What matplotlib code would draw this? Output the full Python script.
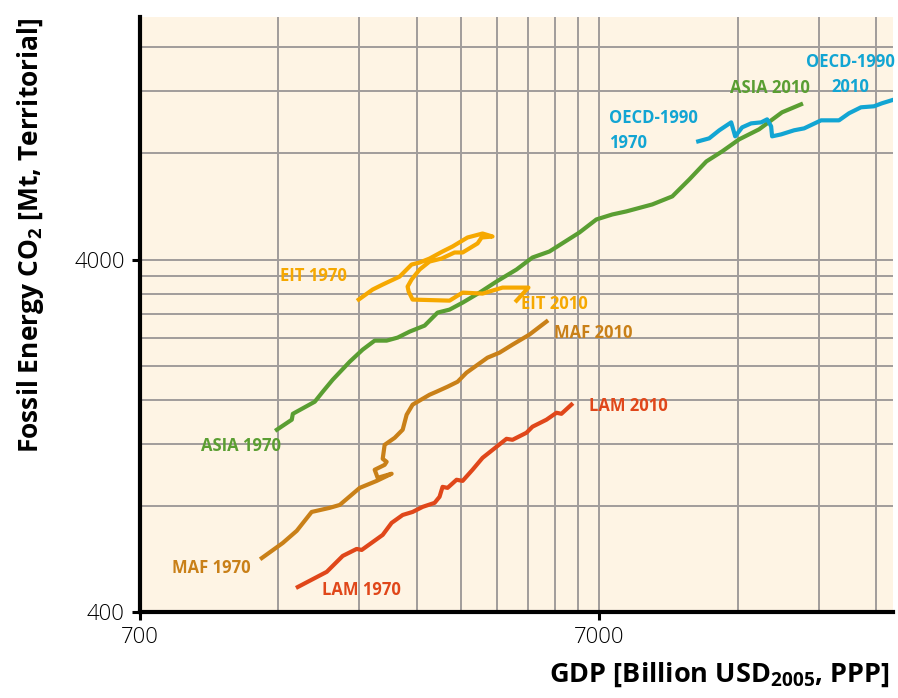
"""Fossil energy CO2 vs GDP by region, 1970-2010 (log-log)."""

import matplotlib.pyplot as plt
from matplotlib.ticker import FixedLocator, NullFormatter

# ---- data (GDP in billion USD2005 PPP, CO2 in Mt) ----
asia_gdp = [1390, 1498, 1506, 1681, 1750, 1839, 2003, 2137, 2270, 2410, 2547, 2705,
            2916, 3111, 3304, 3527, 3840, 4180, 4621, 5006, 5451, 6334, 6896, 7469,
            8012, 9128, 10090, 10990, 11970, 12960, 14110, 15590, 17490, 19240]
asia_co2 = [1316, 1405, 1460, 1580, 1687, 1824, 2052, 2220, 2355, 2355, 2402, 2498,
            2598, 2828, 2884, 3018, 3223, 3464, 3747, 4053, 4216, 4772, 5197, 5369,
            5477, 5733, 6042, 6751, 7593, 8109, 8771, 9364, 10464, 11025]

oecd_gdp = [11490, 12140, 12770, 13555, 13830, 14320, 14980, 15750, 16230, 16560, 16640,
            17410, 18580, 19540, 21270, 23270, 24470, 25980, 27730, 28860, 30300]
oecd_co2 = [8657, 8828, 9305, 9800, 8944, 9485, 9735, 9800, 9994, 9549, 8944,
            9059, 9305, 9423, 9930, 9930, 10400, 10812, 10884, 11100, 11320]

eit_gdp = [2095, 2247, 2363, 2572, 2731, 2843, 2989, 3190, 3353, 3615, 3898, 4097,
           3879, 3802, 3527, 3387, 3174, 2989, 2843, 2731, 2677, 2691, 2745, 3304,
           3527, 3898, 4308, 4906, 4621]
eit_co2 = [3079, 3288, 3397, 3578, 3871, 3922, 4026, 4216, 4355, 4619, 4741, 4649,
           4619, 4444, 4188, 4188, 4026, 3948, 3747, 3510, 3352, 3245, 3079, 3058,
           3223, 3202, 3330, 3330, 3058]

maf_gdp = [1289, 1432, 1536, 1655, 1812, 1905, 2106, 2293, 2471, 2304, 2270, 2386,
           2410, 2363, 2386, 2509, 2612, 2664, 2745, 2989, 3095, 3271, 3439, 3597,
           3996, 4244, 4529, 4931, 5370]
maf_co2 = [569, 628, 680, 769, 790, 805, 900, 942, 987, 961, 1013, 1046,
           1067, 1088, 1192, 1248, 1316, 1451, 1550, 1654, 1687, 1743, 1800, 1910,
           2107, 2177, 2294, 2450, 2667]

lam_gdp = [1544, 1785, 1934, 2074, 2127, 2363, 2471, 2612, 2745, 2887, 3065, 3142,
           3190, 3271, 3422, 3527, 3707, 3898, 4180, 4395, 4529, 4857, 5006, 5370,
           5646, 5788, 6085]
lam_co2 = [471, 520, 577, 604, 600, 662, 716, 754, 769, 795, 816, 849,
           906, 900, 949, 942, 1013, 1095, 1177, 1240, 1232, 1290, 1342, 1405,
           1470, 1460, 1550]

x_ticks = [700, 7000]
y_ticks = [400, 4000]
x_grid = [700 * k for k in range(2, 10)] + [7000 * k for k in range(2, 5)]
y_grid = [400 * k for k in range(2, 10)] + [4000 * k for k in range(2, 5)]

GREEN = "#5A9E32"
BLUE = "#12A5D3"
YELLOW = "#F6A800"
BROWN = "#C98018"
RED = "#E0471A"

plt.rcParams["font.family"] = ["Open Sans", "DejaVu Sans"]
plt.rcParams["mathtext.default"] = "regular"

fig = plt.figure(figsize=(8.98, 6.98), dpi=100)
ax = fig.add_axes([0.1559, 0.1232, 0.8385, 0.8524])
ax.set_facecolor("#FEF4E4")

ax.set_xscale("log")
ax.set_yscale("log")
ax.set_xlim(700, 30500)
ax.set_ylim(400, 19500)

ax.xaxis.set_major_locator(FixedLocator(x_ticks))
ax.yaxis.set_major_locator(FixedLocator(y_ticks))
ax.xaxis.set_minor_locator(FixedLocator(x_grid))
ax.yaxis.set_minor_locator(FixedLocator(y_grid))
ax.xaxis.set_minor_formatter(NullFormatter())
ax.yaxis.set_minor_formatter(NullFormatter())
ax.set_xticklabels([str(v) for v in x_ticks])
ax.set_yticklabels([str(v) for v in y_ticks])

ax.grid(which="both", color="#A19C9A", linewidth=1.4, zorder=0)
ax.set_axisbelow(True)
ax.tick_params(which="minor", length=0)
ax.tick_params(which="major", length=6, width=2.2, color="black", labelsize=16, pad=5)
for lab in ax.get_xticklabels() + ax.get_yticklabels():
    lab.set_fontweight("light")

ax.spines[["top", "right"]].set_visible(False)
ax.spines[["left", "bottom"]].set_linewidth(3)
ax.spines[["left", "bottom"]].set_color("black")

lw = 3
ax.plot(asia_gdp, asia_co2, color=GREEN, lw=lw, solid_joinstyle="round", zorder=3)
ax.plot(oecd_gdp, oecd_co2, color=BLUE, lw=lw, solid_joinstyle="round", zorder=3)
ax.plot(eit_gdp, eit_co2, color=YELLOW, lw=lw, solid_joinstyle="round", zorder=3)
ax.plot(maf_gdp, maf_co2, color=BROWN, lw=lw, solid_joinstyle="round", zorder=3)
ax.plot(lam_gdp, lam_co2, color=RED, lw=lw, solid_joinstyle="round", zorder=3)

lbl = dict(fontsize=12, fontweight="bold", va="center", ha="center", zorder=4)
ax.text(1670, 3600, "EIT 1970", color=YELLOW, **lbl)
ax.text(1160, 1184, "ASIA 1970", color=GREEN, **lbl)
ax.text(1000, 533, "MAF 1970", color=BROWN, **lbl)
ax.text(2120, 462, "LAM 1970", color=RED, **lbl)
ax.text(5600, 3000, "EIT 2010", color=YELLOW, **lbl)
ax.text(6780, 2480, "MAF 2010", color=BROWN, **lbl)
ax.text(8110, 1540, "LAM 2010", color=RED, **lbl)
ax.text(16500, 12300, "ASIA 2010", color=GREEN, **lbl)
ax.text(7340, 9300, "OECD-1990\n1970", color=BLUE, fontsize=12, fontweight="bold",
        va="center", ha="left", linespacing=1.45, zorder=4)
ax.text(24600, 13400, "OECD-1990\n2010", color=BLUE, fontsize=12, fontweight="bold",
        va="center", ha="center", linespacing=1.45, zorder=4)

ax.set_xlabel("GDP [Billion USD$_{2005}$, PPP]", fontsize=19.5, fontweight="bold")
ax.xaxis.set_label_coords(0.770, -0.082)
ax.set_ylabel("Fossil Energy CO$_2$ [Mt, Territorial]", fontsize=19, fontweight="bold")
ax.yaxis.set_label_coords(-0.125, 0.634)

fig.savefig("out.png", dpi=100)
